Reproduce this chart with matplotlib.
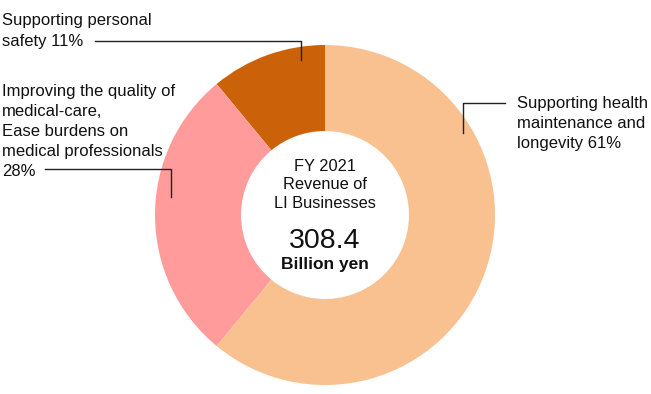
import matplotlib.pyplot as plt

# Datos del gráfico (porcentajes de ingresos LI, FY 2021)
segmentos = ['Supporting personal safety', 'Improving the quality of medical-care',
             'Supporting health maintenance and longevity']
porcentajes = [11, 28, 61]
colores = ['#CB6209', '#FF9B9A', '#F9C190']

etiquetas = [
    ['Supporting personal', 'safety 11%'],
    ['Improving the quality of', 'medical-care,', 'Ease burdens on',
     'medical professionals', '28%'],
    ['Supporting health', 'maintenance and', 'longevity 61%'],
]
texto_centro = ['FY 2021', 'Revenue of', 'LI Businesses']
total = '308.4'
unidad = 'Billion yen'

W, H = 651, 394
plt.rcParams['font.family'] = ['Liberation Sans', 'DejaVu Sans']

fig = plt.figure(figsize=(W / 100, H / 100), dpi=100)
ax = fig.add_axes([0, 0, 1, 1])


def py(y):
    # coordenada y en píxeles (desde arriba) -> coordenada de datos
    return H - y


cx, cy = 325, py(215)
ax.pie(porcentajes, colors=colores, startangle=90, counterclock=True,
       center=(cx, cy), radius=170, frame=True,
       wedgeprops=dict(width=86, linewidth=0))
ax.set_xlim(0, W)
ax.set_ylim(0, H)
ax.axis('off')

fs = 12
col_txt = '#111111'

# Etiqueta 11%
for i, linea in enumerate(etiquetas[0]):
    ax.text(2, py(20 + i * 21), linea, fontsize=fs, color=col_txt, va='center', ha='left')
ax.plot([95, 301, 301], [py(41), py(41), py(60)], color='#222222', lw=1)

# Etiqueta 28%
for i, linea in enumerate(etiquetas[1]):
    ax.text(2, py(91 + i * 20), linea, fontsize=fs, color=col_txt, va='center', ha='left')
ax.plot([45, 171, 171], [py(169), py(169), py(197)], color='#222222', lw=1)

# Etiqueta 61%
for i, linea in enumerate(etiquetas[2]):
    ax.text(517, py(103 + i * 20), linea, fontsize=fs, color=col_txt, va='center', ha='left')
ax.plot([505, 463, 463], [py(103), py(103), py(133)], color='#222222', lw=1)

# Texto central
for i, linea in enumerate(texto_centro):
    ax.text(cx, py(166 + i * 18.5), linea, fontsize=11.8, color=col_txt, va='center', ha='center')
ax.text(cx, py(241), total, fontsize=20.5, color=col_txt, va='center', ha='center')
ax.text(cx, py(265), unidad, fontsize=12.5, fontweight='bold', color=col_txt,
        va='center', ha='center')

fig.savefig('out.png', dpi=100)
